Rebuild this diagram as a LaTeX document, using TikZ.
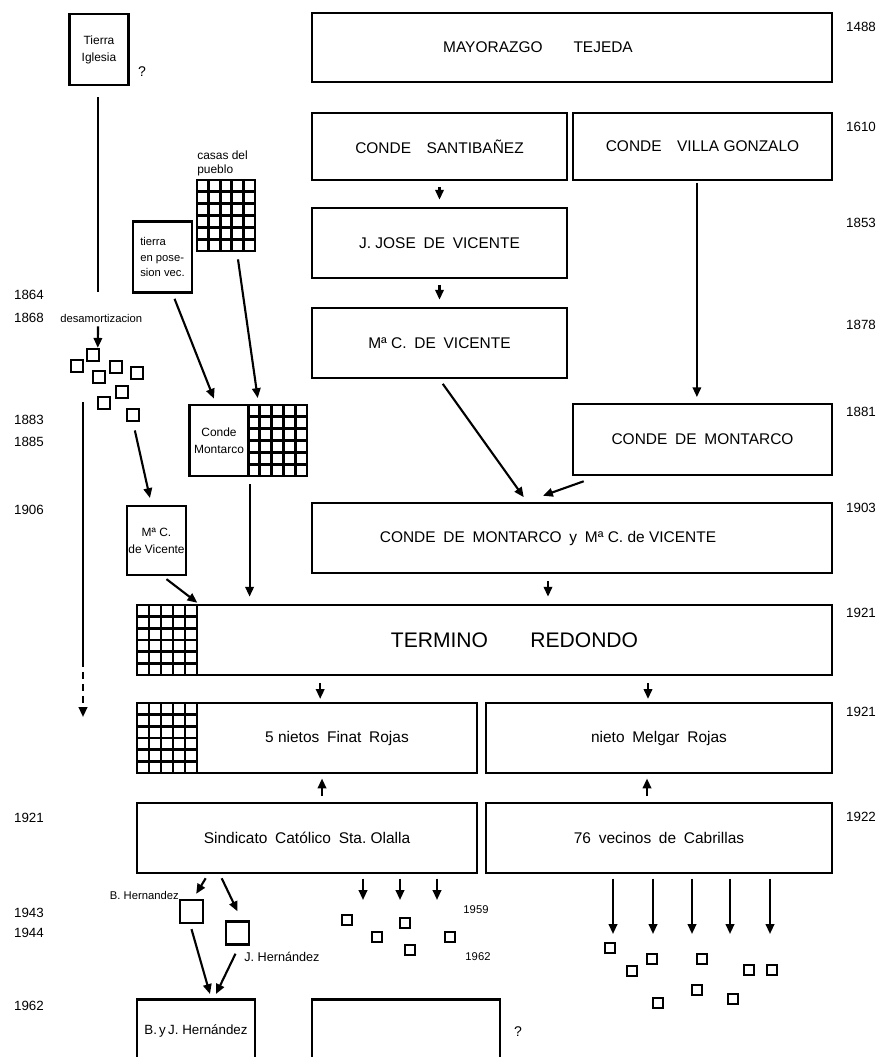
\documentclass[tikz,border=0pt]{standalone}
\usepackage{fontspec}
\setmainfont{Liberation Sans}
\usetikzlibrary{arrows.meta,calc}

\tikzset{
  caja/.style={draw, line width=1.8pt, inner sep=2pt, align=center,
    font=\fontsize{11}{13}\selectfont},
  cajita/.style={draw, line width=1.6pt, inner sep=1pt, align=center,
    minimum width=1.475cm, minimum height=1.775cm,
    font=\fontsize{8.5}{12}\selectfont},
  parcelas/.style={draw, line width=2pt, inner sep=0pt,
    minimum width=1.5cm, minimum height=1.75cm,
    path picture={
      \coordinate (ppsw) at (path picture bounding box.south west);
      \coordinate (ppne) at (path picture bounding box.north east);
      \foreach \k in {1,...,4}
        \draw[line width=2pt] ($(ppsw)!\k/5!(ppsw-|ppne)$) -- ($(ppsw|-ppne)!\k/5!(ppne)$);
      \foreach \k in {1,...,5}
        \draw[line width=2pt] ($(ppsw)!\k/6!(ppsw|-ppne)$) -- ($(ppsw-|ppne)!\k/6!(ppne)$);
    }},
  lote/.style={draw, line width=1.7pt, inner sep=0pt, minimum size=#1},
  lote/.default=0.3cm,
  flecha/.style={-{Triangle[length=7pt,width=6pt]}, line width=1.5pt},
  linea/.style={line width=1.6pt},
  anio/.style={font=\fontsize{9.5}{11}\selectfont},
  nota/.style={font=\fontsize{8}{10}\selectfont},
}

\begin{document}
\begin{tikzpicture}[x=0.025cm, y=-0.025cm]
\useasboundingbox (0,0) rectangle (884,1057);
\clip (0,0) rectangle (884,1057);

% linaje principal
\node[caja, minimum width=13cm, minimum height=1.725cm] (tejeda) at (572,47.5) {MAYORAZGO\qquad TEJEDA\hspace{1.7cm}};
\node[caja, minimum width=6.375cm, minimum height=1.675cm] (santib) at (439.5,146.5) {CONDE\quad SANTIBAÑEZ};
\node[caja, minimum width=6.475cm, minimum height=1.675cm] (villag) at (702.5,146.5) {CONDE\quad VILLA GONZALO};
\node[caja, minimum width=6.375cm, minimum height=1.75cm] (jjose) at (439.5,243) {J. JOSE\enspace DE\enspace VICENTE};
\node[caja, minimum width=6.375cm, minimum height=1.75cm] (mcv) at (439.5,343) {Mª C.\enspace DE\enspace VICENTE};
\node[caja, minimum width=6.475cm, minimum height=1.775cm] (montarco) at (702.5,439.5) {CONDE\enspace DE\enspace MONTARCO};
\node[caja, minimum width=13cm, minimum height=1.75cm] (montmcv) at (572,538) {CONDE\enspace DE\enspace MONTARCO\enspace y\enspace Mª C.\ de VICENTE\hspace{1.2cm}};
\node[parcelas] (tgrid) at (167,640) {};
\node[caja, minimum width=15.875cm, minimum height=1.75cm, font=\fontsize{15}{17}\selectfont] (termino) at (514.5,640) {TERMINO\qquad REDONDO};
\node[parcelas] (ngrid) at (167,738) {};
\node[caja, minimum width=7cm, minimum height=1.75cm] (nietos) at (337,738) {5 nietos\enspace Finat\enspace Rojas};
\node[caja, minimum width=8.65cm, minimum height=1.75cm] (melgar) at (659,738) {nieto\enspace Melgar\enspace Rojas};
\node[caja, minimum width=8.5cm, minimum height=1.75cm] (sindicato) at (307,838) {Sindicato\enspace Católico\enspace Sta.\ Olalla};
\node[caja, minimum width=8.65cm, minimum height=1.75cm] (vecinos) at (659,838) {76\enspace vecinos\enspace de\enspace Cabrillas};
\node[caja, minimum width=2.95cm, minimum height=1.6cm, anchor=north, font=\fontsize{9.5}{11}\selectfont] (bjh) at (196,998) {B.\,y\,J. Hernández};
\node[caja, minimum width=4.7cm, minimum height=1.6cm, anchor=north] (vacio) at (406,998) {};
\node (preg2) at (518,1032) {?};

% columna izquierda
\node[cajita] (iglesia) at (99,49.5) {Tierra\\Iglesia};
\node (preg1) at (142,72) {?};
\node[cajita, align=left, font=\fontsize{8}{11}\selectfont] (tierrapos) at (162.5,257) {tierra\\en pose-\\sion vec.};
\node[parcelas, minimum width=1.45cm, minimum height=1.775cm] (casas) at (226,215.5) {};
\node[nota, anchor=south west, align=left, inner sep=0pt, font=\fontsize{8.5}{10}\selectfont] (casaslbl) at (197,176) {casas del\\pueblo};
\node[cajita] (cmont) at (219,440.5) {Conde\\Montarco};
\node[parcelas, minimum width=1.475cm, minimum height=1.775cm] (cmgrid) at (277.5,440.5) {};
\node[cajita, minimum height=1.725cm] (mcvs) at (156.5,540.5) {Mª C.\\de Vicente};
\node[nota, anchor=west, inner sep=0pt] (desam) at (60,318) {desamortizacion};
\foreach \sx/\sy [count=\n] in {77/366,93/355,99/377,116/367,137/373,122/392,104/403,133/415}
  \node[lote] (q\n) at (\sx,\sy) {};

% parcelas sueltas
\foreach \sx/\sy [count=\n] in {347/920,377/937,405/923,410/950,450/937}
  \node[lote=0.26cm] (s\n) at (\sx,\sy) {};
\foreach \sx/\sy [count=\n] in {610/948,632/971,652/959,702/959,749/970,772/970,658/1003,697/990,733/999}
  \node[lote=0.26cm] (v\n) at (\sx,\sy) {};
\node[lote=0.575cm] (bh) at (191.5,911.5) {};
\node[lote=0.575cm] (jh) at (237.5,933) {};
\node[nota, anchor=east, inner sep=0pt] (bhlbl) at (179,895) {B. Hernandez};
\node[nota, anchor=west, inner sep=0pt, font=\fontsize{9}{10}\selectfont] (jhlbl) at (244,957) {J. Hernández};
\node[nota] (a1959) at (476,910) {1959};
\node[nota] (a1962) at (478,957) {1962};

% fechas
\foreach \a/\yy [count=\n] in {1864/295,1868/318,1883/420,1885/442,1906/510,1921/818,1943/913,1944/933,1962/1006}
  \node[anio] (izq\n) at (29,\yy) {\a};
\foreach \a/\yy [count=\n] in {1488/27,1610/127,1853/223,1878/325,1881/412,1903/508,1921/613,1921/712,1922/817}
  \node[anio] (der\n) at (861,\yy) {\a};

% sucesiones
\draw[flecha, shorten <=4pt, shorten >=5pt] (santib) -- (jjose);
\draw[flecha, shorten <=4pt, shorten >=5pt] (jjose) -- (mcv);
\draw[flecha, shorten <=1pt, shorten >=4pt] ([xshift=-0.14cm]villag.south) -- ([xshift=-0.14cm]montarco.north);
\draw[flecha, shorten <=4pt, shorten >=4pt] (mcv.south) -- ($(montmcv.north)+(-45,0)$);
\draw[flecha] ($(montarco.south west)+(12,5)$) -- ($(montmcv.north)+(-29,-6)$);
\draw[flecha, shorten <=5pt, shorten >=5pt] ([xshift=-0.6cm]montmcv.south) -- ([xshift=-0.6cm]montmcv.south |- termino.north);
\draw[flecha, shorten <=5pt, shorten >=2pt] ([xshift=-0.42cm]nietos.north |- termino.south) -- ([xshift=-0.42cm]nietos.north);
\draw[flecha, shorten <=5pt, shorten >=2pt] ([xshift=-0.275cm]melgar.north |- termino.south) -- ([xshift=-0.275cm]melgar.north);
\draw[flecha, shorten <=4pt, shorten >=3pt] ([xshift=0.375cm]sindicato.north) -- ([xshift=0.375cm]sindicato.north |- nietos.south);
\draw[flecha, shorten <=4pt, shorten >=3pt] ([xshift=-0.3cm]vecinos.north) -- ([xshift=-0.3cm]vecinos.north |- melgar.south);

% reparto
\foreach \x [count=\n] in {363,400,437} {
  \coordinate (fs\n) at (\x,900);
  \draw[flecha, shorten <=3pt] (fs\n |- sindicato.south) -- (fs\n);
}
\foreach \x [count=\n] in {613,653,692,730,770} {
  \coordinate (fv\n) at (\x,934);
  \draw[flecha, shorten <=3pt] (fv\n |- vecinos.south) -- (fv\n);
}
\draw[flecha] ($(sindicato.south west)+(70,4)$) -- ($(bh.north east)+(-8,-5)$);
\draw[flecha] ($(sindicato.south west)+(86,4)$) -- ($(jh.north)+(0,-9)$);
\draw[flecha] ($(bh.south)+(0,5)$) -- ($(bjh.north)+(14,-4)$);
\draw[flecha] ($(jh.south)+(-2,8)$) -- ($(bjh.north)+(20,-4)$);

% tierras de la izquierda
\coordinate (igfin) at (98,292);
\draw[linea, shorten <=8pt] (iglesia.south -| igfin) -- (igfin);
\draw[flecha] ([xshift=-0.08cm, yshift=-0.1cm]desam.south) -- ([xshift=0.12cm]q2.north);
\coordinate (lizq1) at (83,402);
\coordinate (lizq2) at (83,660);
\coordinate (lizq3) at (83,717);
\draw[linea] (lizq1) -- (lizq2);
\draw[flecha, dash pattern=on 5pt off 3.5pt] (lizq2) -- (lizq3);
\draw[flecha, shorten <=6pt, shorten >=5pt] (q8.south) -- ($(mcvs.north)+(-5,0)$);
\draw[flecha, shorten >=1pt] ($(mcvs.south)+(10,3)$) -- (tgrid.north east);
\draw[flecha, shorten <=4pt, shorten >=4pt] ($(tierrapos.south)+(10,0)$) -- ($(cmont.north)+(-3,0)$);
\draw[flecha, shorten <=5pt, shorten >=4pt] ($(casas.south)+(11,0)$) -- ($(cmgrid.north)+(-19,0)$);
\draw[flecha, shorten <=5pt, shorten >=5pt] ([xshift=0.075cm]cmgrid.south west) -- ([xshift=0.075cm]cmgrid.south west |- termino.north);
\end{tikzpicture}
\end{document}
